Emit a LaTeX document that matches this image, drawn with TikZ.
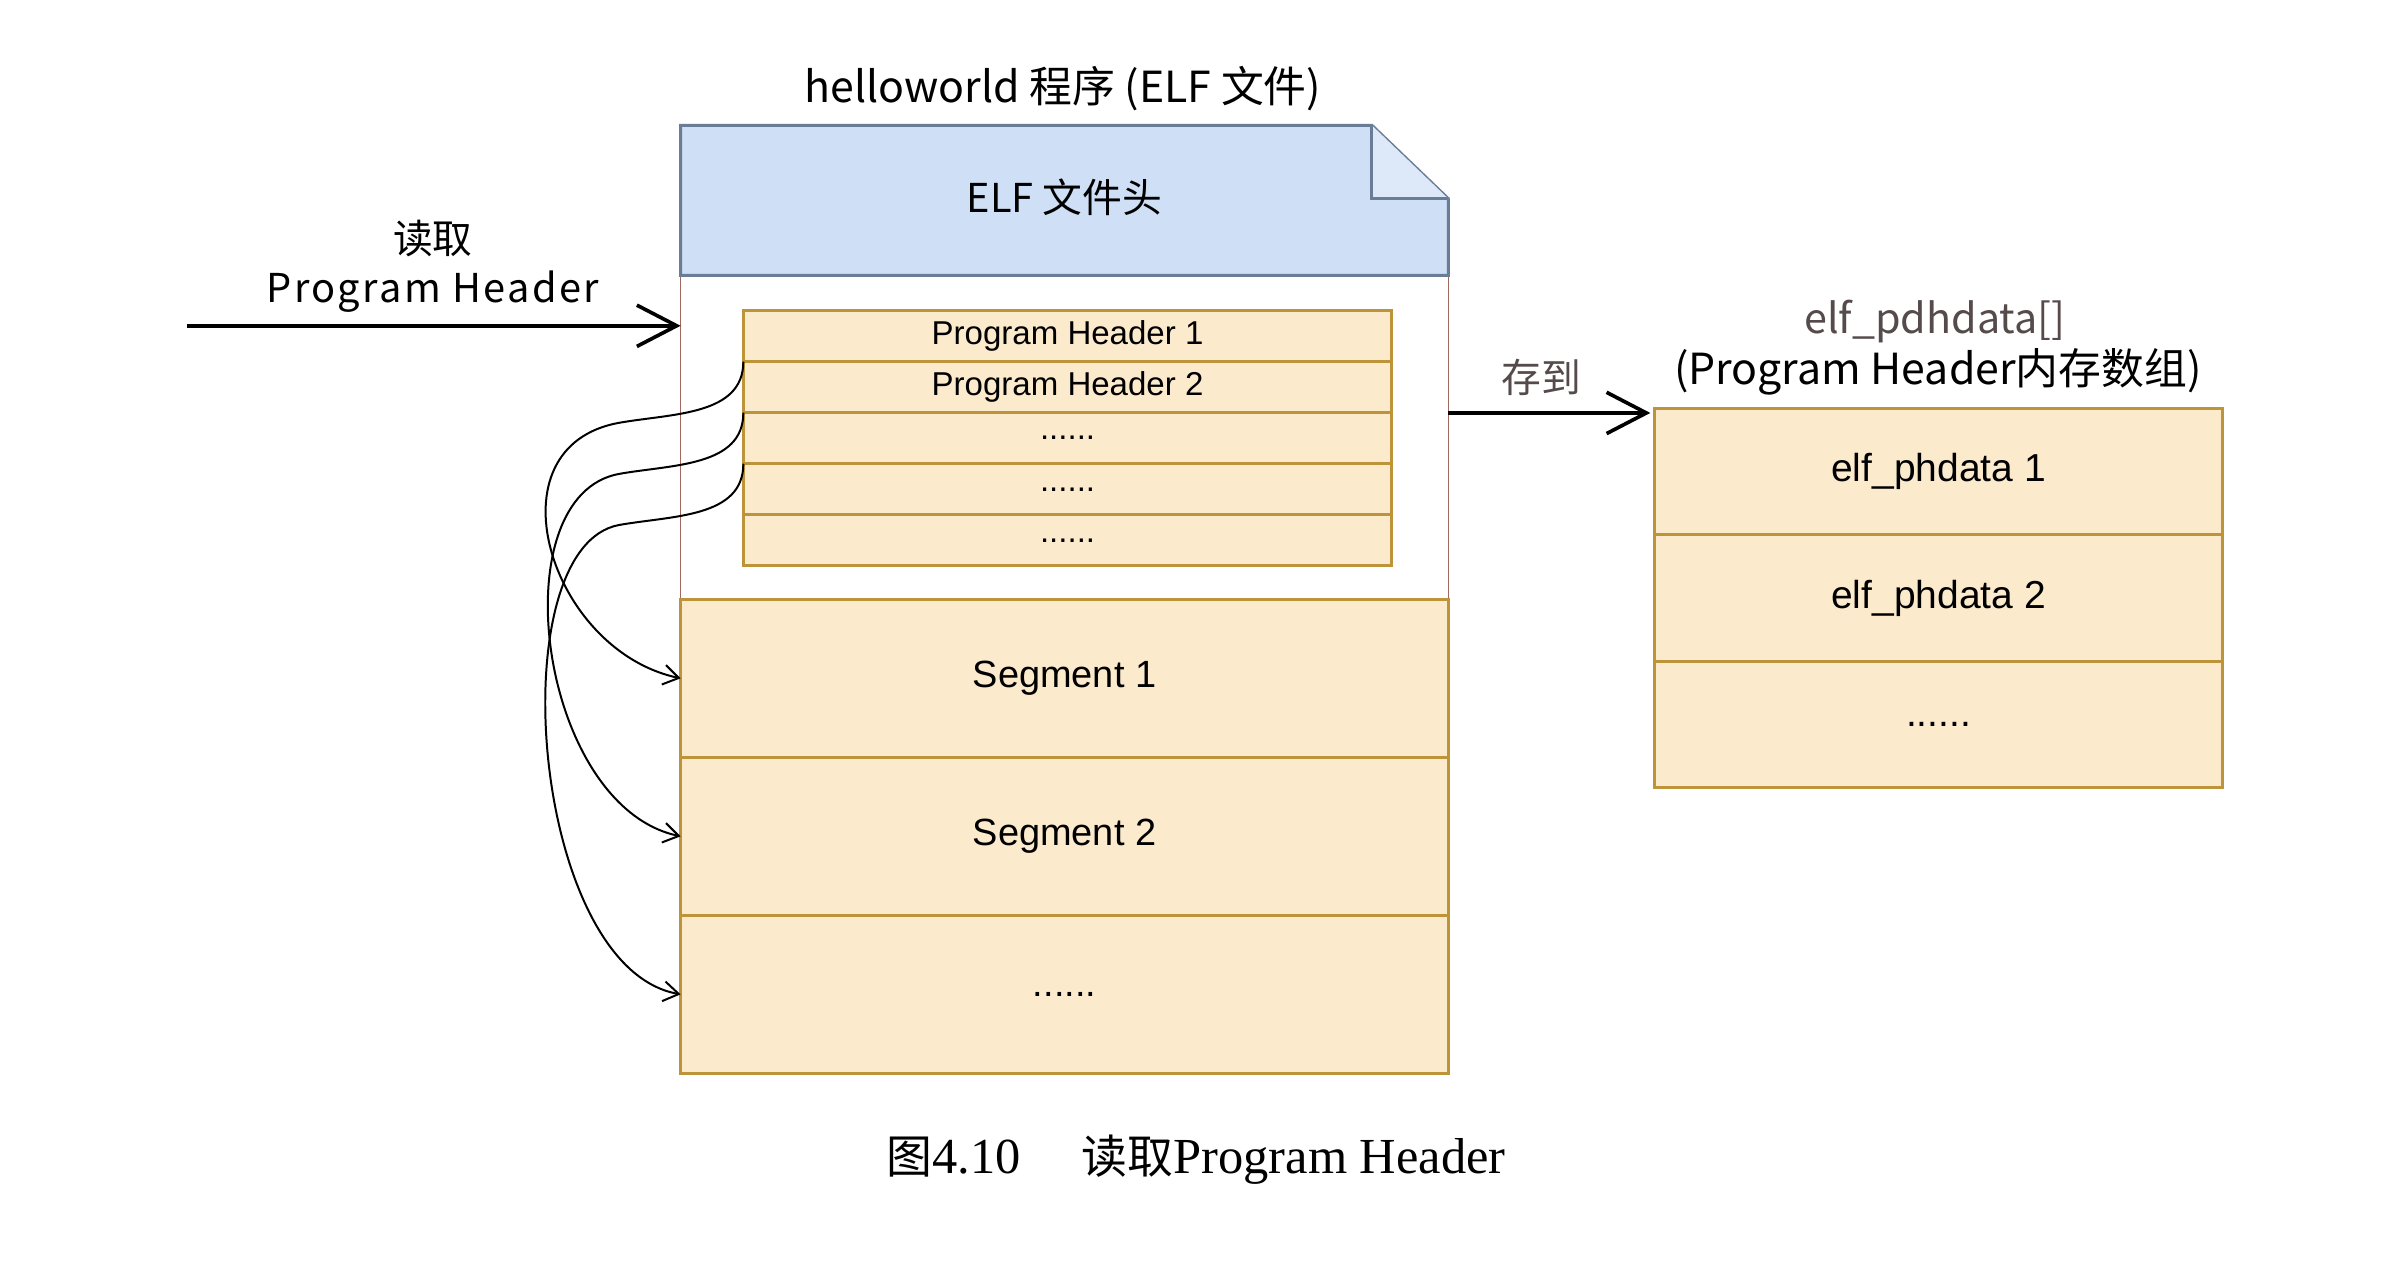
\documentclass[tikz,border=0pt]{standalone}
\usepackage{fontspec}
\usepackage{tikz}
\usetikzlibrary{arrows.meta}
\setmainfont{Liberation Sans}
\newfontfamily\cjk{Noto Sans CJK SC}
\newfontfamily\capfont{Liberation Serif}
\definecolor{elfblue}{RGB}{207,223,245}
\definecolor{elfedge}{RGB}{105,125,150}
\definecolor{phfill}{RGB}{252,234,205}
\definecolor{phedge}{RGB}{190,148,58}
\definecolor{bodyedge}{RGB}{160,105,95}
\definecolor{notegray}{RGB}{85,75,75}

\begin{document}
\begin{tikzpicture}[x=1pt,y=1pt,
    phrow/.style={draw=phedge, line width=2pt, fill=phfill, minimum width=424pt, minimum height=33.4pt, inner sep=0pt, outer sep=0pt, font=\fontsize{21.6}{24}\selectfont},
    segbox/.style={draw=phedge, line width=2pt, fill=phfill, minimum width=502pt, minimum height=103.3pt, inner sep=0pt, outer sep=0pt, font=\fontsize{24.8}{28}\selectfont},
    databox/.style={draw=phedge, line width=2pt, fill=phfill, minimum width=371pt, minimum height=82.7pt, inner sep=0pt, outer sep=0pt, font=\fontsize{25.5}{28}\selectfont},
    bigarrow/.style={-{Straight Barb[length=26pt,width=27pt]}, line width=2.4pt},
    linkarrow/.style={-{Straight Barb[length=10pt,width=13pt]}, line width=1.3pt},
    ]
    \useasboundingbox (0,0) rectangle (1560,-837);

    \node[font=\cjk\fontsize{28}{34}\selectfont] (title) at (695,-58) {helloworld 程序 (ELF 文件)};

    \node[draw=bodyedge, line width=1pt, fill=white, minimum width=502pt, minimum height=212pt, inner sep=0pt, outer sep=0pt] (body) at (696,-286) {};
    \filldraw[fill=elfblue, draw=elfedge, line width=2pt] (445,-82) -- (897,-82) -- (947,-130) -- (947,-180) -- (445,-180) -- cycle;
    \filldraw[fill=elfblue!70!white, draw=elfedge, line width=2pt] (897,-82) -- (897,-130) -- (947,-130);
    \node[font=\cjk\fontsize{26}{30}\selectfont] (elfhead) at (696,-129) {ELF 文件头};

    \node[phrow] (ph1) at (698,-219.7) {Program Header 1};
    \node[phrow] (ph2) at (698,-253.1) {Program Header 2};
    \node[phrow] (ph3) at (698,-286.5) {......};
    \node[phrow] (ph4) at (698,-319.9) {......};
    \node[phrow] (ph5) at (698,-353.3) {......};

    \node[segbox] (seg1) at (696,-443.5) {Segment 1};
    \node[segbox] (seg2) at (696,-546.8) {Segment 2};
    \node[segbox] (seg3) at (696,-650.1) {......};

    \node[databox] (arr1) at (1267.5,-308.3) {elf\_phdata 1};
    \node[databox] (arr2) at (1267.5,-391) {elf\_phdata 2};
    \node[databox] (arr3) at (1267.5,-473.7) {......};

    \node[font=\cjk\fontsize{26}{32}\selectfont, align=center] (readlbl) at (283,-174) {读取\\{\addfontfeatures{LetterSpace=6}Program Header}};
    \coordinate (readfrom) at (122,-213);
    \draw[bigarrow] (readfrom) -- (readfrom -| body.west);

    \node[font=\cjk\fontsize{26}{30}\selectfont, text=notegray] (storelbl) at (1008,-247) {存到};
    \coordinate (storeto) at (1079,-270);
    \draw[bigarrow] (storeto -| body.east) -- (storeto);
    \node[font=\cjk\fontsize{27}{30}\selectfont, text=notegray] (arrname) at (1265,-210) {elf\_pdhdata[]};
    \node[font=\cjk\fontsize{28}{30}\selectfont] (arrnote) at (1267,-243) {(Program Header内存数组)};

    \draw[linkarrow] (ph1.south west) to[out=270, in=10] ++(-81,-40) to[out=190, in=168, distance=88pt] (seg1.west);
    \draw[linkarrow] (ph2.south west) to[out=270, in=10] ++(-81,-40) to[out=190, in=168, out distance=80pt, in distance=95pt] (seg2.west);
    \draw[linkarrow] (ph3.south west) to[out=270, in=10] ++(-81,-40) to[out=190, in=170, out distance=80pt, in distance=100pt] (seg3.west);

    \node[font=\fontsize{33}{38}\selectfont] (caption) at (782,-758) {{\cjk\fontsize{30}{38}\selectfont 图}{\capfont 4.10}\hspace{40pt}{\cjk\fontsize{30}{38}\selectfont 读取}{\capfont Program Header}};
\end{tikzpicture}
\end{document}
